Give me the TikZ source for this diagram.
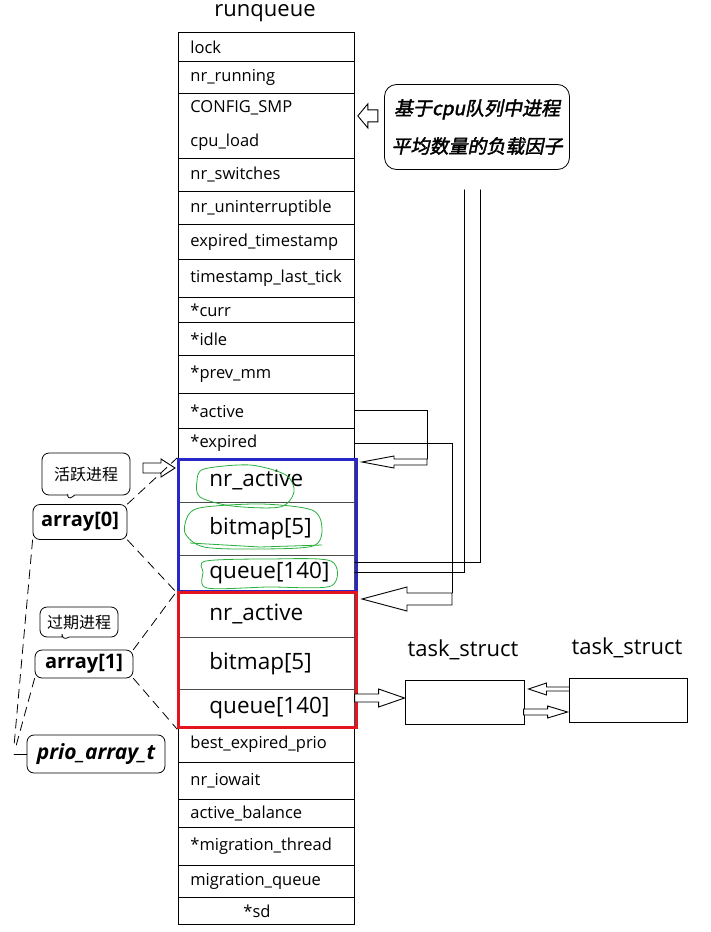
\documentclass[tikz,border=0pt]{standalone}
\usepackage{fontspec}
\setmainfont{Open Sans}
\newfontfamily\cjk{Noto Sans CJK SC}
\newfontfamily\cjkbi{Noto Sans CJK SC}[FakeSlant=0.2,FakeBold=2]
\usetikzlibrary{calc,shapes.callouts}

\definecolor{boxblue}{RGB}{40,40,200}
\definecolor{boxred}{RGB}{230,20,30}
\definecolor{pen}{RGB}{40,175,60}

% hollow block arrow: tip, angle, length, head length, head half, shaft half
\newcommand{\blockarr}[6]{%
  \draw[hollow,shift={(#1)},rotate=#2] (0,0) -- (-#4,#5) -- (-#4,#6) -- (-#3,#6)
    -- (-#3,-#6) -- (-#4,-#6) -- (-#4,-#5) -- cycle;}

\tikzset{
  cell/.style={draw, line width=0.8pt, anchor=north west, minimum width=176pt,
    inner ysep=0pt, inner xsep=12pt, text width=152pt, align=left,
    font=\fontsize{16.5}{19}\selectfont},
  bigcell/.style={cell, draw=black!70, inner xsep=31pt, text width=114pt,
    font=\fontsize{22.5}{26}\selectfont},
  hollow/.style={draw, fill=white, line width=0.9pt, line join=miter},
  link/.style={line width=0.9pt},
  dashline/.style={line width=0.8pt, dash pattern=on 9pt off 6pt},
  note/.style={draw, line width=0.8pt, rounded corners=7pt, inner sep=2pt,
    font=\fontsize{16}{18}\selectfont},
  penmark/.style={draw=pen, line width=0.8pt}
}

\begin{document}
\begin{tikzpicture}[x=1pt, y=-1pt, line cap=round]
  \useasboundingbox (0,0) rectangle (711,932);

  % runqueue column
  \node[font=\fontsize{22}{26}\selectfont] (title) at (265,13) {runqueue};
  \foreach \t/\b/\n/\s [evaluate=\t as \h using \b-\t] in {
      32/61/lock/lock, 61/93/nrrun/nr\_running,
      93/158/smp/{CONFIG\_SMP\\[15pt]cpu\_load},
      158/191/nrsw/nr\_switches, 191/224/nrunint/nr\_uninterruptible,
      224/259/exts/expired\_timestamp, 259/297/tslt/timestamp\_last\_tick,
      297/322/curr/*curr, 322/355/idle/*idle, 355/393/prevmm/*prev\_mm,
      393/428/active/*active, 428/458/expired/*expired,
      726/762/bep/best\_expired\_prio, 762/799/iowait/nr\_iowait,
      799/827/actbal/active\_balance, 827/865/migth/*migration\_thread,
      865/897/migq/migration\_queue, 897/924/sd/{\hspace*{53pt}*sd}}
    \node[cell, minimum height=\h pt] (\n) at (178,\t) {\s};

  % prio arrays
  \foreach \t/\b/\n/\s [evaluate=\t as \h using \b-\t] in {
      458/502/a0nr/nr\_active, 502/555/a0bm/bitmap[5], 555/590/a0q/queue[140],
      591/637/a1nr/nr\_active, 637/689/a1bm/bitmap[5], 689/726/a1q/queue[140]}
    \node[bigcell, minimum height=\h pt] (\n) at (178,\t) {\s};
  \node[draw=boxblue, line width=3pt, anchor=north west, inner sep=0pt,
    minimum width=178pt, minimum height=132pt] (a0box) at (177,458) {};
  \node[draw=boxred, line width=3pt, anchor=north west, inner sep=0pt,
    minimum width=178pt, minimum height=135pt] (a1box) at (177,591) {};

  % green pen marks
  \draw[penmark] plot[smooth cycle] coordinates {(204,469) (250,465) (286,475)
    (294,492) (280,507) (232,506) (200,497) (197,481)};
  \draw[penmark] plot[smooth cycle] coordinates {(205,507) (262,504) (312,510)
    (322,528) (313,546) (258,549) (204,547) (185,533) (189,514)};
  \draw[penmark] (190,543) -- (260,547) -- (322,545);
  \draw[penmark] plot[smooth cycle] coordinates {(206,561) (268,559) (331,561)
    (331,586) (268,587) (207,588) (203,572)};

  % load factor note
  \node[draw, rounded corners=12pt, line width=0.8pt, minimum width=185pt,
    minimum height=85pt, align=center,
    font=\cjkbi\fontsize{19}{38}\selectfont] (loadnote) at (477,127)
    {基于cpu队列中进程\\平均数量的负载因子};
  \coordinate (tip0) at ($(smp.east)+(3,-10)$);
  \blockarr{tip0}{180}{20}{10}{12}{6}
  \draw[link] ($(a0q.east)+(0,-10)$) -| ($(loadnote.south)+(3,20)$);
  \draw[link] (a0q.east) -| ($(loadnote.south)+(-13,20)$);

  % *active and *expired pointers
  \coordinate (tip1) at ($(a0box.north east)+(4,4)$);
  \blockarr{tip1}{180}{65}{32}{6}{3}
  \draw[link] (active.east) -| ($(tip1)+(65,-3)$);
  \coordinate (tip2) at ($(a1box.north east)+(4,8)$);
  \blockarr{tip2}{180}{90}{45}{12}{6}
  \draw[link] (expired.east) -| ($(tip2)+(90,-6)$);

  % left labels
  \node[note, rectangle callout, callout absolute pointer={(67,501)},
    minimum width=88pt, minimum height=42pt] (actnote) at (86,474) {\cjk 活跃进程};
  \node[note, minimum width=94pt, minimum height=35pt,
    font=\bfseries\fontsize{20}{22}\selectfont] (arr0) at (80,522) {array[0]};
  \node[note, rectangle callout, callout absolute pointer={(62,641)},
    minimum width=78pt, minimum height=30pt] (expnote) at (79,622) {\cjk 过期进程};
  \node[note, minimum width=98pt, minimum height=28pt,
    font=\bfseries\fontsize{20}{22}\selectfont] (arr1) at (84,664) {array[1]};
  \node[note, minimum width=138pt, minimum height=38pt,
    font=\bfseries\itshape\fontsize{21}{24}\selectfont] (prio) at (96,754) {prio\_array\_t};

  \coordinate (tip3) at ($(a0box.north west)+(-2,10)$);
  \blockarr{tip3}{0}{32}{14}{9}{5}
  \draw[dashline] (arr0.north east) -- (a0box.north west);
  \draw[dashline] (arr0.south east) -- (a0box.south west);
  \draw[dashline] (arr1.north east) -- (a1box.north west);
  \draw[dashline] (arr1.south east) -- (a1box.south west);
  \coordinate (brk) at (14,746);
  \draw[dashline] (arr0.south west) -- (brk);
  \draw[dashline] (arr1.south west) -- ($(brk)+(2,0)$);
  \draw[link] (brk |- prio.west) -- (prio.west);

  % task list
  \node[font=\fontsize{22}{26}\selectfont] (tasklbl1) at (463,650) {task\_struct};
  \node[font=\fontsize{22}{26}\selectfont] (tasklbl2) at (627,648) {task\_struct};
  \node[draw, line width=0.9pt, minimum width=119pt, minimum height=44pt] (task1) at (464.5,702) {};
  \node[draw, line width=0.9pt, minimum width=118pt, minimum height=44pt] (task2) at (628,700) {};
  \coordinate (tip4) at ($(task1.west)+(0,-4)$);
  \blockarr{tip4}{0}{50}{26}{9}{4}
  \coordinate (tip5) at ($(task1.east)+(4,-13)$);
  \blockarr{tip5}{180}{41}{18}{6}{2}
  \coordinate (tip6) at ($(task2.west)+(-1,12)$);
  \blockarr{tip6}{0}{44}{20}{6}{3}
\end{tikzpicture}
\end{document}
